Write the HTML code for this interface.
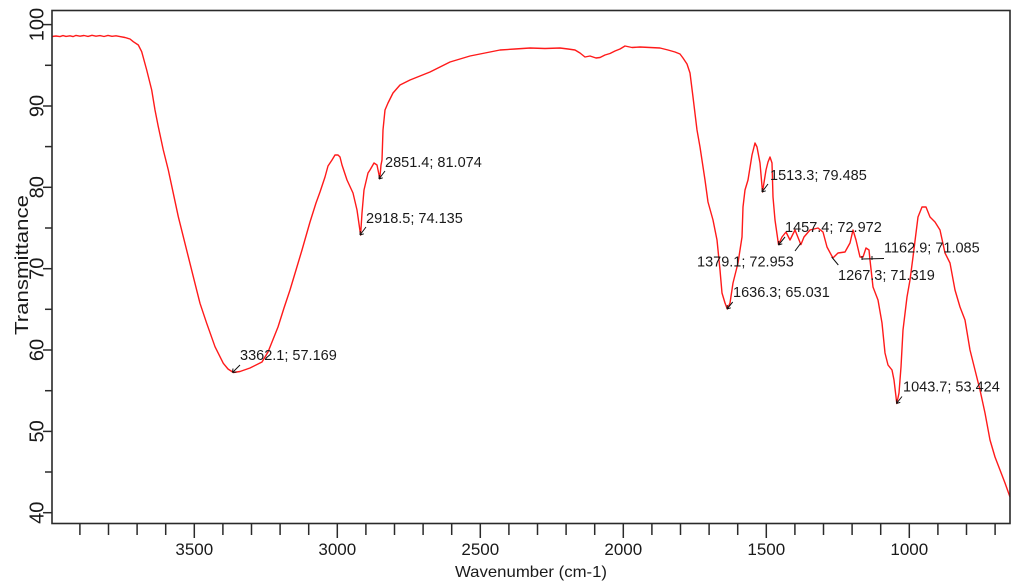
<!DOCTYPE html>
<html>
<head>
<meta charset="utf-8">
<style>
  html, body { margin: 0; padding: 0; background: #ffffff; }
  svg { display: block; }
  text { font-family: "Liberation Sans", Arial, sans-serif; fill: #1a1a1a; }
</style>
</head>
<body>
<svg width="1022" height="587" viewBox="0 0 1022 587" xmlns="http://www.w3.org/2000/svg">
  <rect x="0" y="0" width="1022" height="587" fill="#ffffff"/>

  <!-- spectrum -->
  <path fill="none" stroke="#ff1a1a" stroke-width="1.4" stroke-linejoin="round" d="
  M52,36.5 L56,36 L60,36.6 L63,35.6 L66,36.4 L70,35.8 L73,36.6 L76,35.4 L80,36.2 L84,35.5 L88,36.4 L92,35.3 L96,36.2 L100,35.6 L104,36.5 L108,35.4 L112,36.3 L116,35.8 L120,36.6 L125,37.5 L130,39
  L133.3,41.7 L138.3,45 L141.7,51.7 L146.7,70 L151.7,90 L155,110 L158.3,126.7 L163.3,150 L168.3,170 L173.3,193.3 L178.3,216.7 L183.3,236.7 L188.3,256.7 L193.3,276.7 L200,303.3 L206.7,323.3 L215,346.7 L223.3,363.3 L228,369 L233.3,372.5 L240,371.5 L250,368 L262,362
  L268,352 L272,342 L278,327 L284,308 L290,290 L296,270 L302,250 L310,222 L316,203 L320,192 L325,177 L328,166 L332,160 L335,155 L338,155 L340,157 L342,165 L347,180 L353,193 L357,210 L360.6,235
  L362,213 L364,190 L368,173 L370,170 L374,163 L377,165 L379.8,178.6 L381,165 L382,160 L383,130 L385,110 L388,103 L393,93 L400,85 L410,80 L420,76 L430,72 L440,67 L450,62 L460,59 L470,56 L485,53 L500,50 L515,49 L530,48 L545,48.5 L560,48 L568,49 L575,50 L580,53 L585,57 L590,56 L596,58 L600,57.5 L605,55 L610,53.5 L615,51 L620,49 L625,46 L632,47.5 L640,47 L650,47.5 L660,48 L668,50 L675,52 L680,54 L683,58 L687,64 L690,73 L693,97 L697,130
  L700,147 L705,180 L708,202 L713,220 L717,240 L720,270 L722,293 L725,303 L727.3,309 L730,303 L733,283 L738,263 L742,237 L743,207 L745,190 L748,180 L752,155 L755,143 L757,147 L760,163 L762.5,192 L766,170 L768,162 L770,157 L772,163 L773,197 L775,220 L778.5,244.5
  L782,237 L786,232 L790,240 L795,230 L800.9,244.6 L804,237 L810,230 L818,228 L823,232 L827,247 L832.9,258 L838,253 L845,252 L850,243 L853,230 L856,240 L860,257 L863,257 L866,248 L869,250 L870,260 L873,287 L878,300 L882,323 L885,353 L888,365 L892,370 L894,380 L896.8,403.5
  L899,393 L901,367 L903,330 L907,297 L910,280 L913,257 L916,233 L918,217 L922,207 L926,207 L930,217 L935,222 L940,230 L945,253 L950,263 L955,290 L960,307 L965,320 L970,350 L975,370 L980,390 L985,413 L990,440 L995,457 L1000,470 L1005,483 L1010,497"/>

  <!-- frame -->
  <rect x="52" y="10.5" width="958" height="513" fill="none" stroke="#2a2a2a" stroke-width="1.6"/>

  <!-- x ticks -->
  <g stroke="#2a2a2a" stroke-width="1.5">
    <line x1="79.9" y1="523" x2="79.9" y2="535"/>
    <line x1="108.5" y1="523" x2="108.5" y2="535"/>
    <line x1="137.1" y1="523" x2="137.1" y2="535"/>
    <line x1="165.7" y1="523" x2="165.7" y2="535"/>
    <line x1="194.3" y1="523" x2="194.3" y2="538"/>
    <line x1="222.9" y1="523" x2="222.9" y2="535"/>
    <line x1="251.5" y1="523" x2="251.5" y2="535"/>
    <line x1="280.1" y1="523" x2="280.1" y2="535"/>
    <line x1="308.7" y1="523" x2="308.7" y2="535"/>
    <line x1="337.3" y1="523" x2="337.3" y2="538"/>
    <line x1="365.9" y1="523" x2="365.9" y2="535"/>
    <line x1="394.5" y1="523" x2="394.5" y2="535"/>
    <line x1="423.1" y1="523" x2="423.1" y2="535"/>
    <line x1="451.7" y1="523" x2="451.7" y2="535"/>
    <line x1="480.3" y1="523" x2="480.3" y2="538"/>
    <line x1="508.9" y1="523" x2="508.9" y2="535"/>
    <line x1="537.5" y1="523" x2="537.5" y2="535"/>
    <line x1="566.1" y1="523" x2="566.1" y2="535"/>
    <line x1="594.7" y1="523" x2="594.7" y2="535"/>
    <line x1="623.3" y1="523" x2="623.3" y2="538"/>
    <line x1="651.9" y1="523" x2="651.9" y2="535"/>
    <line x1="680.5" y1="523" x2="680.5" y2="535"/>
    <line x1="709.1" y1="523" x2="709.1" y2="535"/>
    <line x1="737.7" y1="523" x2="737.7" y2="535"/>
    <line x1="766.3" y1="523" x2="766.3" y2="538"/>
    <line x1="794.9" y1="523" x2="794.9" y2="535"/>
    <line x1="823.5" y1="523" x2="823.5" y2="535"/>
    <line x1="852.1" y1="523" x2="852.1" y2="535"/>
    <line x1="880.7" y1="523" x2="880.7" y2="535"/>
    <line x1="909.3" y1="523" x2="909.3" y2="538"/>
    <line x1="937.9" y1="523" x2="937.9" y2="535"/>
    <line x1="966.5" y1="523" x2="966.5" y2="535"/>
    <line x1="995.1" y1="523" x2="995.1" y2="535"/>
  </g>

  <!-- y ticks -->
  <g stroke="#2a2a2a" stroke-width="1.5">
    <line x1="43" y1="512.7" x2="52" y2="512.7"/>
    <line x1="45" y1="472.0" x2="52" y2="472.0"/>
    <line x1="43" y1="431.4" x2="52" y2="431.4"/>
    <line x1="45" y1="390.7" x2="52" y2="390.7"/>
    <line x1="43" y1="350.0" x2="52" y2="350.0"/>
    <line x1="45" y1="309.3" x2="52" y2="309.3"/>
    <line x1="43" y1="268.7" x2="52" y2="268.7"/>
    <line x1="45" y1="228.0" x2="52" y2="228.0"/>
    <line x1="43" y1="187.3" x2="52" y2="187.3"/>
    <line x1="45" y1="146.6" x2="52" y2="146.6"/>
    <line x1="43" y1="106.0" x2="52" y2="106.0"/>
    <line x1="45" y1="65.3" x2="52" y2="65.3"/>
    <line x1="43" y1="24.6" x2="52" y2="24.6"/>
  </g>

  <!-- x tick labels -->
  <g font-size="17" text-anchor="middle">
    <text x="194.3" y="555">3500</text>
    <text x="337.3" y="555">3000</text>
    <text x="480.3" y="555">2500</text>
    <text x="623.3" y="555">2000</text>
    <text x="766.3" y="555">1500</text>
    <text x="909.3" y="555">1000</text>
  </g>

  <!-- y tick labels (rotated) -->
  <g font-size="20" text-anchor="middle">
    <text transform="translate(43.5,512.7) rotate(-90)">40</text>
    <text transform="translate(43.5,431.4) rotate(-90)">50</text>
    <text transform="translate(43.5,350.0) rotate(-90)">60</text>
    <text transform="translate(43.5,268.7) rotate(-90)">70</text>
    <text transform="translate(43.5,187.3) rotate(-90)">80</text>
    <text transform="translate(43.5,106.0) rotate(-90)">90</text>
    <text transform="translate(43.5,24.6) rotate(-90)">100</text>
  </g>

  <!-- axis titles -->
  <text x="531" y="577" font-size="16" text-anchor="middle" textLength="152" lengthAdjust="spacingAndGlyphs">Wavenumber (cm-1)</text>
  <text transform="translate(28,265) rotate(-90)" font-size="18.5" text-anchor="middle" textLength="140" lengthAdjust="spacingAndGlyphs">Transmittance</text>

  <!-- annotation leaders -->
  <g stroke="#111" stroke-width="1" fill="none">
    <path d="M240,365 L232.5,372.5 M232.5,372.5 L233,368.5 M232.5,372.5 L236.5,372"/>
    <path d="M366,227 L360,235 M360,235 L360.3,231 M360,235 L363.8,233.8"/>
    <path d="M385,171 L379,179 M379,179 L379.3,175 M379,179 L382.8,177.8"/>
    <path d="M768,184 L762,192 M762,192 L762.3,188 M762,192 L765.8,190.8"/>
    <path d="M785,237 L778.5,245 M778.5,245 L778.8,241 M778.5,245 L782.3,243.8"/>
    <path d="M800.7,243.3 L795,251"/>
    <path d="M732.7,302 L727,309 M727,309 L727.3,305 M727,309 L730.8,307.8"/>
    <path d="M831.7,257 L838.3,265"/>
    <path d="M862,259 L884,258.5 M862,256 L862,260 M872,256 L872,260"/>
    <path d="M902,396.5 L896.5,403.5 M896.5,403.5 L896.8,399.5 M896.5,403.5 L900.3,402.3"/>
  </g>

  <!-- annotation labels -->
  <g font-size="14.5">
    <text x="240" y="360">3362.1; 57.169</text>
    <text x="366" y="223">2918.5; 74.135</text>
    <text x="385" y="167">2851.4; 81.074</text>
    <text x="770" y="180">1513.3; 79.485</text>
    <text x="785" y="232">1457.4; 72.972</text>
    <text x="697" y="266.5">1379.1; 72.953</text>
    <text x="733" y="297">1636.3; 65.031</text>
    <text x="838" y="280">1267.3; 71.319</text>
    <text x="884" y="252.5">1162.9; 71.085</text>
    <text x="903" y="391.5">1043.7; 53.424</text>
  </g>
</svg>
</body>
</html>
